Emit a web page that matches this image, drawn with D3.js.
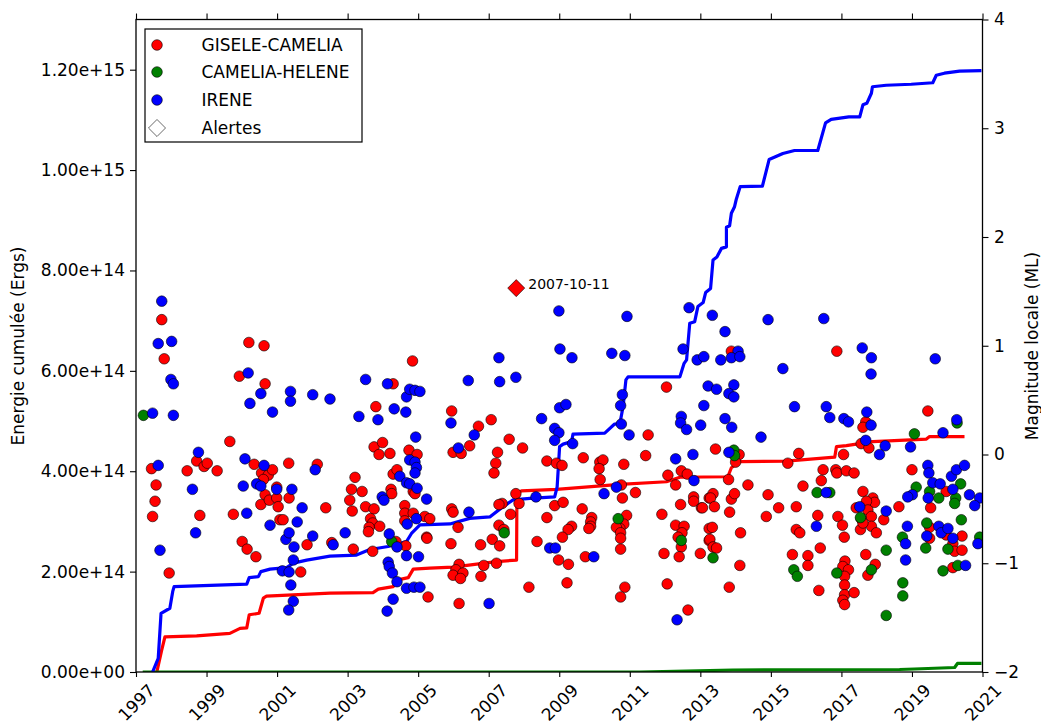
<!DOCTYPE html>
<html><head><meta charset="utf-8">
<script src="https://cdn.jsdelivr.net/npm/d3@7"></script>
<style>body{margin:0;background:#fff}svg{display:block}text{font-family:"DejaVu Sans",sans-serif;fill:#000}</style>
</head><body><svg id="c" width="1041" height="724"></svg>
<script>
// ---------- data ----------
const yearTicks = [1997,1999,2001,2003,2005,2007,2009,2011,2013,2015,2017,2019,2021];
const energyTicks = [0,2e14,4e14,6e14,8e14,1e15,1.2e15];
const energyTickLabels = ["0.00e+00","2.00e+14","4.00e+14","6.00e+14","8.00e+14","1.00e+15","1.20e+15"];
const magTicks = [-2,-1,0,1,2,3,4];
const seriesNames = ["GISELE-CAMELIA","CAMELIA-HELENE","IRENE","Alertes"];
const seriesColors = ["#ff0000","#008000","#0000ff","#ffffff"];

// events: [decimal year, local magnitude]
const giseleCamelia = [[1997.44,-0.13],[1997.47,-0.57],[1997.54,-0.43],[1997.57,-0.28],[1997.73,1.24],[1997.80,0.88],[1997.94,-1.09],[1998.45,-0.15],[1998.72,-0.06],[1998.93,-0.11],[1999.02,-0.08],[1998.81,-0.56],[1999.30,-0.15],[1999.66,0.12],[1999.76,-0.55],[1999.93,0.72],[2000.20,1.03],[2000.63,1.00],[2000.66,0.65],[2000.35,-0.09],[2000.56,-0.17],[2000.75,-0.19],[2000.87,-0.14],[2000.61,-0.23],[2000.66,-0.37],[2000.54,-0.46],[2000.78,-0.42],[2000.99,-0.40],[2001.03,-0.48],[2000.99,-0.30],[2001.08,-0.60],[2001.17,-0.60],[2000.01,-0.80],[2000.15,-0.87],[2000.40,-0.94],[2001.67,-1.08],[2001.34,-0.40],[2001.33,-0.08],[2002.14,-0.09],[2002.38,-0.49],[2001.85,-0.83],[2002.55,-0.81],[2003.16,-0.87],[2003.80,0.44],[2004.29,0.65],[2004.84,0.86],[2003.75,0.07],[2003.99,0.11],[2003.89,0.00],[2004.20,0.01],[2004.74,0.04],[2004.97,0.00],[2003.21,-0.21],[2003.11,-0.32],[2003.41,-0.34],[2003.06,-0.42],[2003.13,-0.52],[2003.51,-0.48],[2003.75,-0.50],[2003.65,-0.59],[2003.71,-0.63],[2003.61,-0.67],[2003.59,-0.71],[2003.91,-0.66],[2004.23,-0.32],[2004.25,-0.36],[2004.29,-0.18],[2004.40,-0.14],[2004.86,-0.34],[2004.91,-0.36],[2004.62,-0.47],[2004.62,-0.54],[2004.62,-0.61],[2004.86,-0.54],[2005.19,-0.57],[2005.24,-0.76],[2004.37,-0.80],[2004.65,-0.84],[2003.71,-0.89],[2005.28,-1.31],
[2012.04,0.62],[2011.52,0.18],[2005.95,0.40],[2006.71,0.26],[2007.07,0.32],[2006.46,0.08],[2005.99,0.02],[2006.22,0.01],[2007.58,0.14],[2007.96,0.06],[2007.25,0.02],[2007.20,-0.08],[2007.15,-0.17],[2008.65,-0.06],[2008.92,-0.08],[2009.08,-0.10],[2009.68,-0.03],[2010.15,-0.07],[2010.24,-0.05],[2010.13,-0.13],[2010.83,-0.09],[2011.45,-0.01],[2010.16,-0.23],[2012.08,-0.19],[2012.46,-0.15],[2012.63,-0.18],[2012.30,-0.28],[2010.76,-0.28],[2011.16,-0.35],[2010.79,-0.40],[2007.77,-0.36],[2007.86,-0.45],[2007.38,-0.45],[2007.29,-0.46],[2005.95,-0.50],[2005.99,-0.53],[2005.33,-0.59],[2007.62,-0.55],[2008.87,-0.47],[2009.11,-0.44],[2009.65,-0.50],[2008.65,-0.58],[2009.92,-0.58],[2009.89,-0.62],[2009.89,-0.66],[2009.84,-0.68],[2009.35,-0.66],[2009.25,-0.69],[2009.09,-0.76],[2008.37,-0.80],[2008.98,-0.97],[2009.26,-1.01],[2009.74,-0.94],[2010.91,-0.56],[2010.83,-0.64],[2010.72,-0.68],[2010.62,-0.67],[2010.74,-0.72],[2010.74,-0.77],[2010.74,-0.87],[2011.91,-0.55],[2012.30,-0.65],[2012.54,-0.66],[2012.48,-0.72],[2012.37,-0.76],[2012.46,-0.85],[2012.40,-0.94],[2011.97,-0.91],[2013.00,-0.91],[2012.81,-0.39],[2012.81,-0.43],[2012.44,-0.46],[2013.03,-0.49],[2013.25,-0.40],[2013.25,-0.68],[2013.25,-0.79],[2006.13,-0.67],[2005.25,-0.77],[2005.93,-0.82],[2006.77,-0.83],[2007.10,-0.78],[2007.31,-0.84],[2007.29,-0.65],[2007.43,-0.69],[2006.16,-1.01],[2006.07,-1.06],[2005.99,-1.11],[2006.27,-1.09],[2006.20,-1.14],[2006.86,-1.02],[2007.22,-1.00],[2006.78,-1.12],[2006.16,-1.37],[2008.14,-1.22],[2009.22,-1.18],[2010.86,-1.22],[2010.74,-1.31],[2012.06,-1.19],[2012.65,-1.43],
[2013.88,0.95],[2016.87,0.95],[2017.69,0.30],[2017.61,0.25],[2019.45,0.40],[2017.56,0.10],[2017.78,0.06],[2013.43,0.05],[2014.10,0.00],[2014.00,-0.07],[2015.79,0.01],[2017.06,0.00],[2015.48,-0.08],[2016.48,-0.14],[2016.84,-0.14],[2016.87,-0.17],[2017.14,-0.15],[2017.36,-0.17],[2016.43,-0.24],[2019.00,-0.14],[2019.97,-0.34],[2018.63,-0.48],[2019.53,-0.49],[2013.80,-0.23],[2014.35,-0.28],[2015.91,-0.29],[2013.36,-0.36],[2013.29,-0.40],[2013.88,-0.41],[2013.97,-0.36],[2013.06,-0.49],[2013.40,-0.48],[2013.83,-0.53],[2014.92,-0.37],[2015.22,-0.49],[2015.72,-0.48],[2014.87,-0.57],[2017.61,-0.34],[2017.89,-0.40],[2017.94,-0.44],[2017.71,-0.43],[2017.42,-0.49],[2017.75,-0.51],[2018.20,-0.60],[2017.85,-0.57],[2017.56,-0.59],[2017.85,-0.66],[2017.99,-0.72],[2017.54,-0.69],[2017.61,-0.63],[2016.33,-0.56],[2016.90,-0.57],[2017.03,-0.65],[2017.08,-0.76],[2013.34,-0.67],[2014.14,-0.72],[2015.72,-0.69],[2015.82,-0.72],[2013.27,-0.78],[2013.36,-0.85],[2013.46,-0.86],[2014.12,-1.02],[2013.82,-1.22],[2015.61,-0.92],[2016.05,-0.93],[2016.05,-1.02],[2016.40,-0.86],[2016.36,-1.25],[2017.10,-0.98],[2017.04,-1.03],[2017.20,-1.06],[2017.09,-1.12],[2017.09,-1.20],[2017.09,-1.29],[2017.04,-1.34],[2017.09,-1.38],[2017.36,-1.27],[2017.69,-0.92],[2017.96,-1.01],[2017.75,-1.11],[2019.50,-0.67],[2019.50,-0.77],[2019.97,-0.74],[2020.16,-0.82],[2020.21,-0.89],[2020.42,-0.75],[2020.42,-0.88],[2020.16,-1.04]];

const cameliaHelene = [[1997.21,0.36],[2004.25,-0.80],[2007.44,-0.72],[2010.67,-0.59],[2012.46,-0.79],[2013.95,0.04],[2013.97,-0.01],[2016.31,-0.35],[2016.67,-0.35],[2017.54,-0.58],[2013.36,-0.95],[2015.65,-1.06],[2015.75,-1.12],[2016.87,-1.09],[2017.85,-1.06],[2018.27,-0.88],[2018.73,-0.76],[2018.74,-1.18],[2018.74,-1.30],[2018.27,-1.48],[2019.42,-0.63],[2019.39,-0.86],[2019.88,-1.07],[2020.02,-0.87],[2020.30,-1.02],[2020.40,-0.60],[2020.92,-0.76],[2020.28,0.29],[2019.07,0.19],[2020.38,-0.27],[2019.12,-0.30],[2019.50,-0.34],[2019.76,-0.40],[2020.24,-0.40],[2020.21,-0.45]];

const irene = [[1997.47,0.38],[1997.63,-0.10],[1997.63,1.02],[1997.68,-0.88],[1997.73,1.41],[1998.01,1.04],[1997.99,0.69],[1998.06,0.65],[1998.06,0.36],[1998.60,-0.32],[1998.77,0.02],[1998.69,-0.72],[2000.18,0.75],[2000.23,0.47],[2000.54,0.56],[2000.87,0.39],[2000.09,-0.04],[2000.63,-0.10],[2000.42,-0.27],[2000.54,-0.29],[2000.04,-0.29],[2000.99,-0.32],[2000.14,-0.54],[2000.80,-0.65],[2001.15,-1.07],[2001.34,-1.08],[2001.46,-0.97],[2001.48,-0.85],[2001.25,-0.78],[2001.34,-0.72],[2001.57,-0.62],[2001.71,-0.49],[2001.42,-0.32],[2001.38,0.58],[2001.38,0.49],[2002.01,0.55],[2002.50,0.51],[2002.08,-0.14],[2002.01,-0.75],[2002.59,-0.83],[2002.93,-0.72],[2001.39,-1.20],[2001.46,-1.35],[2001.33,-1.43],[2003.32,0.35],[2003.51,0.69],[2003.86,0.32],[2004.13,0.65],[2004.32,0.42],[2004.65,0.39],[2004.67,0.53],[2004.76,0.60],[2004.91,0.59],[2005.05,0.58],[2004.93,0.16],[2004.76,-0.05],[2004.91,-0.07],[2004.95,-0.12],[2004.91,-0.17],[2003.98,-0.39],[2004.03,-0.42],[2004.48,-0.20],[2004.67,-0.26],[2004.76,-0.27],[2004.97,-0.31],[2004.95,-0.59],[2004.69,-0.64],[2005.24,-0.41],[2004.18,-0.73],[2004.40,-0.85],[2004.67,-0.93],[2005.01,-0.94],[2004.15,-0.99],[2004.18,-1.03],[2004.27,-1.09],[2004.40,-1.17],[2004.67,-1.23],[2004.88,-1.22],[2005.05,-1.22],[2004.29,-1.33],[2004.12,-1.44],
[2008.99,1.32],[2010.92,1.27],[2012.68,1.35],[2009.02,0.97],[2009.36,0.89],[2010.49,0.93],[2010.86,0.91],[2007.29,0.89],[2006.42,0.68],[2007.31,0.67],[2007.77,0.71],[2012.51,0.97],[2012.91,0.87],[2013.10,0.90],[2013.22,0.63],[2010.79,0.55],[2010.74,0.45],[2009.01,0.43],[2009.19,0.46],[2008.50,0.33],[2008.87,0.24],[2008.99,0.20],[2008.87,0.13],[2009.38,0.10],[2010.76,0.28],[2010.98,0.18],[2012.46,0.35],[2012.44,0.29],[2012.61,0.23],[2013.01,0.27],[2013.10,0.45],[2005.93,0.29],[2006.59,0.18],[2006.14,0.06],[2012.30,-0.04],[2012.79,0.00],[2012.82,-0.24],[2010.62,-0.30],[2010.27,-0.36],[2008.34,-0.39],[2006.44,-0.53],[2008.73,-0.86],[2008.89,-0.86],[2009.98,-0.94],[2007.01,-1.37],[2012.34,-1.52],
[2013.34,1.28],[2014.92,1.24],[2016.50,1.25],[2013.70,1.13],[2014.07,0.95],[2013.88,0.89],[2014.12,0.90],[2013.58,0.87],[2015.34,0.79],[2017.59,0.98],[2017.85,0.89],[2017.84,0.74],[2019.66,0.88],[2013.46,0.60],[2013.95,0.64],[2013.81,0.56],[2013.95,0.53],[2013.70,0.33],[2013.89,0.25],[2015.67,0.44],[2016.57,0.44],[2016.67,0.34],[2017.07,0.33],[2017.20,0.30],[2017.72,0.39],[2017.84,0.27],[2020.27,0.32],[2014.72,0.16],[2019.88,0.20],[2017.69,0.13],[2018.24,0.08],[2018.08,0.00],[2018.96,0.07],[2013.81,0.02],[2019.45,-0.10],[2019.48,-0.17],[2019.59,-0.26],[2019.80,-0.27],[2020.12,-0.20],[2020.26,-0.14],[2020.49,-0.10],[2020.16,-0.32],[2019.01,-0.37],[2018.88,-0.39],[2019.46,-0.40],[2020.63,-0.37],[2020.92,-0.40],[2020.78,-0.47],[2016.57,-0.35],[2017.52,-0.48],[2018.27,-0.52],[2016.29,-0.66],[2018.87,-0.66],[2018.82,-0.82],[2018.82,-0.97],[2019.42,-0.75],[2019.76,-0.66],[2019.83,-0.72],[2020.02,-0.68],[2020.16,-0.77],[2020.52,-1.02],[2020.87,-0.82]];

// cumulative energy: [decimal year, energy in units of 1e14 ergs]
const giseleEnergy = [[1997.59,0],[1997.73,0.44],[1997.82,0.70],[1998.72,0.72],[1999.66,0.77],[1999.95,0.87],[2000.14,0.88],[2000.21,1.14],[2000.49,1.17],[2000.61,1.47],[2000.70,1.51],[2002.50,1.57],[2003.72,1.58],[2003.87,1.65],[2004.29,1.70],[2004.39,1.83],[2004.72,1.88],[2004.86,2.05],[2005.33,2.07],[2005.99,2.09],[2007.22,2.20],[2007.79,2.23],[2007.80,3.56],[2007.93,3.61],[2008.92,3.64],[2010.72,3.74],[2012.04,3.79],[2012.42,3.88],[2013.78,3.89],[2013.88,4.07],[2014.12,4.19],[2015.44,4.20],[2016.81,4.28],[2016.86,4.49],[2017.14,4.51],[2017.89,4.59],[2019.41,4.64],[2019.50,4.69],[2020.49,4.69]];
const cameliaEnergy = [[1997.19,0],[2011.28,0],[2013.92,0.04],[2018.65,0.05],[2019.07,0.06],[2020.21,0.09],[2020.29,0.17],[2020.97,0.17]];
const ireneEnergy = [[1997.47,0],[1997.63,0.27],[1997.71,1.17],[1997.96,1.27],[1998.04,1.60],[1998.08,1.70],[2000.14,1.75],[2000.21,1.88],[2000.47,1.90],[2000.54,2.00],[2000.80,2.05],[2001.27,2.08],[2001.46,2.17],[2001.84,2.23],[2002.50,2.31],[2003.25,2.33],[2003.63,2.44],[2004.15,2.50],[2004.67,2.60],[2004.81,2.76],[2005.05,2.93],[2005.90,2.95],[2006.46,3.06],[2007.03,3.09],[2007.36,3.27],[2007.69,3.43],[2008.17,3.46],[2008.87,3.49],[2008.94,3.69],[2009.01,4.49],[2009.11,4.54],[2009.35,4.59],[2009.39,4.74],[2010.29,4.76],[2010.57,4.94],[2010.72,4.95],[2010.81,5.29],[2010.89,5.82],[2010.95,5.88],[2012.42,5.88],[2012.54,6.15],[2012.61,6.22],[2012.70,6.95],[2012.84,6.98],[2012.93,7.28],[2013.08,7.36],[2013.15,7.56],[2013.29,7.64],[2013.36,8.21],[2013.47,8.27],[2013.60,8.44],[2013.74,8.47],[2013.74,8.86],[2013.83,8.89],[2013.88,9.14],[2013.97,9.27],[2014.02,9.42],[2014.13,9.67],[2014.76,9.68],[2014.95,10.21],[2015.34,10.33],[2015.67,10.39],[2016.33,10.39],[2016.55,10.94],[2016.71,11.01],[2017.21,11.06],[2017.52,11.06],[2017.61,11.30],[2017.72,11.33],[2017.85,11.53],[2017.88,11.66],[2018.27,11.69],[2018.98,11.71],[2019.59,11.74],[2019.69,11.89],[2019.92,11.93],[2020.35,11.97],[2020.97,11.98]];

const alertDates = ["2007-10-11"];
const alertYears = [2007.78];
const alertMags = [1.53];

// ---------- drawing ----------
const svg = d3.select("#c");
const L = 136, R = 982.5, T = 19.5, B = 672;
const x = d3.scaleLinear().domain([1997, 2021]).range([L, R]);
const yE = d3.scaleLinear().domain([0, 1.3e15]).range([B, T]);
const yM = d3.scaleLinear().domain([-2, 4]).range([B, T]);
const FS = 17;

svg.append("defs").append("clipPath").attr("id","clip")
  .append("rect").attr("x",L).attr("y",T).attr("width",R-L).attr("height",B-T);

// energy lines (left axis)
const line = d3.line().x(d => x(d[0])).y(d => yE(d[1]*1e14));
const lines = [[giseleEnergy, seriesColors[0]], [cameliaEnergy, seriesColors[1]], [ireneEnergy, seriesColors[2]]];
const gl = svg.append("g").attr("clip-path","url(#clip)");
lines.forEach(([data, col]) => {
  gl.append("path").datum(data).attr("d", line)
    .attr("fill","none").attr("stroke",col).attr("stroke-width",3.2)
    .attr("stroke-linejoin","round");
});

// scatter (right axis)
const gs = svg.append("g").attr("clip-path","url(#clip)");
[[giseleCamelia, seriesColors[0]], [cameliaHelene, seriesColors[1]], [irene, seriesColors[2]]].forEach(([data, col]) => {
  gs.append("g").selectAll("circle").data(data).join("circle")
    .attr("cx", d => x(d[0])).attr("cy", d => yM(d[1])).attr("r", 5.3)
    .attr("fill", col).attr("stroke","#000").attr("stroke-width",0.6);
});

// alert
const diamond = d3.symbol().type(d3.symbolDiamond2).size(185);
alertYears.forEach((yr, i) => {
  svg.append("path").attr("d", diamond())
    .attr("transform", `translate(${x(yr)},${yM(alertMags[i])})`)
    .attr("fill","#ff0000").attr("stroke","#000").attr("stroke-width",0.6);
  svg.append("text").attr("x", x(yr)+12).attr("y", yM(alertMags[i])+1)
    .attr("font-size", 14).text(alertDates[i]);
});

// frame
svg.append("rect").attr("x",L).attr("y",T).attr("width",R-L).attr("height",B-T)
  .attr("fill","none").attr("stroke","#000").attr("stroke-width",1.3);

// axes
function styleAxis(g){
  g.select(".domain").remove();
  g.selectAll(".tick line").attr("stroke","#000").attr("stroke-width",1.1);
  g.selectAll("text").attr("font-size",FS).attr("font-family","DejaVu Sans").attr("fill","#000");
}
svg.append("g").attr("transform",`translate(${L},0)`)
  .call(d3.axisLeft(yE).tickValues(energyTicks).tickSize(6).tickPadding(5)
    .tickFormat((d,i)=>energyTickLabels[i])).call(styleAxis);
svg.append("g").attr("transform",`translate(${R},0)`)
  .call(d3.axisRight(yM).tickValues(magTicks).tickSize(6).tickPadding(5.5)
    .tickFormat(d3.format("d"))).call(styleAxis);
svg.append("g").attr("transform",`translate(0,${T})`)
  .call(d3.axisTop(x).tickValues(yearTicks).tickSize(6).tickFormat("")).call(styleAxis);
const gb = svg.append("g").attr("transform",`translate(0,${B})`)
  .call(d3.axisBottom(x).tickValues(yearTicks).tickSize(5).tickFormat(d=>String(d))).call(styleAxis);
gb.selectAll(".tick text")
  .attr("text-anchor","middle").attr("dy",null).attr("y",null)
  .attr("dominant-baseline","central")
  .attr("transform","translate(0,30.5) rotate(-45)");

// axis titles
svg.append("text").attr("transform","translate(18,346) rotate(-90)")
  .attr("text-anchor","middle").attr("dominant-baseline","central")
  .attr("font-size",FS).text("Energie cumulée (Ergs)");
svg.append("text").attr("transform","translate(1032,346) rotate(-90)")
  .attr("text-anchor","middle").attr("dominant-baseline","central")
  .attr("font-size",FS).text("Magnitude locale (ML)");

// legend
const lg = svg.append("g");
lg.append("rect").attr("x",145).attr("y",29).attr("width",217).attr("height",113)
  .attr("fill","#fff").attr("stroke","#000").attr("stroke-width",1.2);
const rowsY = [45,72,100,128];
seriesNames.forEach((name,i)=>{
  if(i<3){
    lg.append("circle").attr("cx",157).attr("cy",rowsY[i]).attr("r",5.3)
      .attr("fill",seriesColors[i]).attr("stroke","#000").attr("stroke-width",0.6);
  } else {
    lg.append("path").attr("d",diamond()).attr("transform",`translate(157,${rowsY[i]})`)
      .attr("fill","#fff").attr("stroke","#444").attr("stroke-width",0.8);
  }
  lg.append("text").attr("x",201.5).attr("y",rowsY[i]+6).attr("font-size",FS).text(name);
});
</script></body></html>
